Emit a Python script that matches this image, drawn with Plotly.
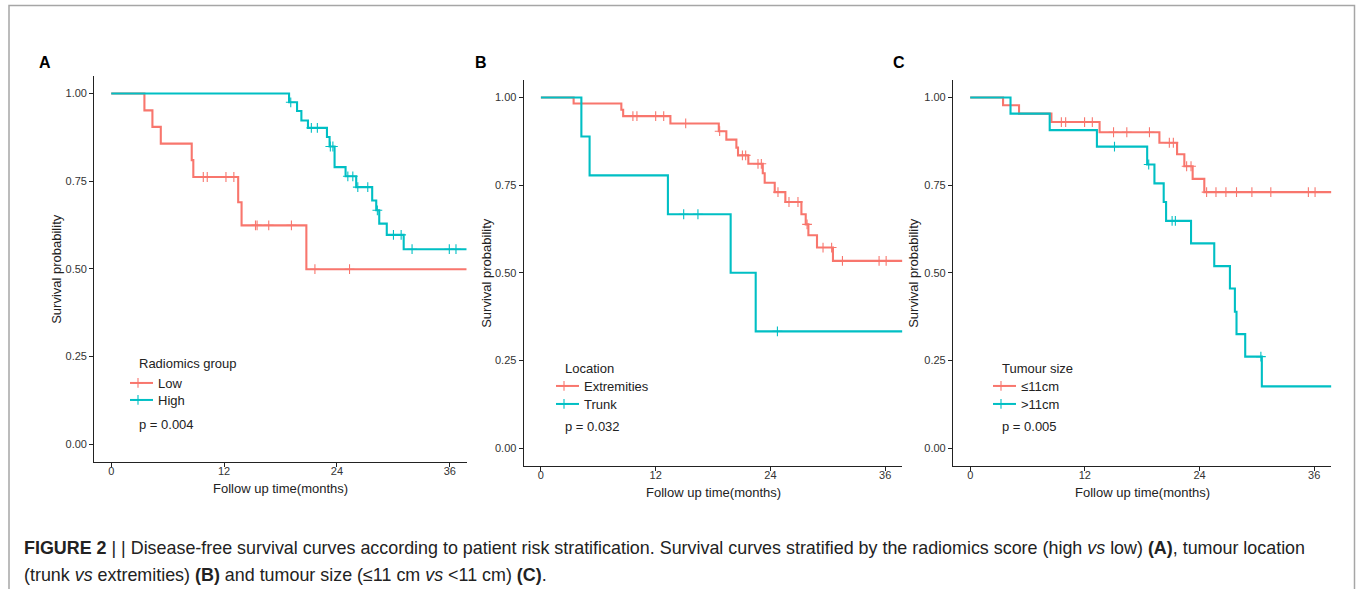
import plotly.graph_objects as go

RED = "#F8766D"
TEAL = "#00BFC4"
FONT = "Liberation Sans, Arial, sans-serif"

# ---------------- data (months, survival probability) ----------------
# Panel A: radiomics group
a_low_t = [0, 3.53, 4.38, 5.27, 8.56, 8.73, 13.50, 13.86, 20.75, 37.8]
a_low_s = [1.0, 0.952, 0.905, 0.857, 0.810, 0.762, 0.690, 0.624, 0.499, 0.499]
a_low_cens = [9.79, 10.21, 12.2, 13.04, 15.34, 15.51, 16.75, 19.16, 21.66, 25.34]

a_high_t = [0, 18.91, 19.76, 20.22, 20.92, 22.94, 23.22, 23.75, 24.92, 26.05,
            27.75, 28.18, 28.5, 29.3, 31.1, 37.8]
a_high_s = [1.0, 0.975, 0.950, 0.923, 0.902, 0.876, 0.849, 0.790, 0.764, 0.733,
            0.695, 0.667, 0.629, 0.597, 0.556, 0.556]
a_high_cens = [19.09, 21.28, 21.92, 23.3, 23.57, 25.16, 25.69, 26.22, 27.28, 28.3,
               30.01, 30.83, 31.99, 35.95, 36.66]

# Panel B: location
b_ext_t = [0, 3.42, 8.41, 8.6, 13.54, 18.6, 19.39, 20.44, 20.61, 21.69, 23.2, 23.4,
           24.45, 25.56, 27.24, 27.69, 27.97, 28.87, 30.54, 37.8]
b_ext_s = [1.0, 0.983, 0.965, 0.947, 0.926, 0.904, 0.880, 0.857, 0.835, 0.811, 0.784,
           0.757, 0.730, 0.702, 0.667, 0.638, 0.607, 0.572, 0.534, 0.534]
b_ext_cens = [9.62, 10.04, 12.0, 12.84, 15.14, 18.69, 21.07, 21.41, 22.7, 23.05, 24.79,
              25.94, 26.88, 27.83, 29.5, 30.4, 31.53, 35.36, 36.1]

b_trunk_t = [0, 4.23, 5.09, 13.28, 19.84, 22.46, 37.8]
b_trunk_s = [1.0, 0.889, 0.778, 0.667, 0.500, 0.333, 0.333]
b_trunk_cens = [14.93, 16.42, 24.73]

# Panel C: tumour size
c_small_t = [0, 3.44, 5.11, 8.50, 13.54, 19.80, 21.65, 22.41, 23.28, 24.5, 37.8]
c_small_s = [1.0, 0.978, 0.954, 0.930, 0.901, 0.871, 0.838, 0.804, 0.768, 0.730, 0.730]
c_small_cens = [9.54, 9.99, 11.97, 12.78, 15.0, 16.39, 18.76, 20.84, 21.26, 22.65, 23.11,
                24.74, 25.72, 26.76, 27.87, 29.48, 31.46, 35.39, 36.09]

c_large_t = [0, 4.22, 8.32, 13.26, 18.52, 19.28, 20.25, 20.5, 23.11, 25.54, 27.18,
             27.70, 27.87, 28.78, 30.52, 37.8]
c_large_s = [1.0, 0.954, 0.907, 0.860, 0.809, 0.755, 0.702, 0.648, 0.584, 0.519, 0.455,
             0.389, 0.325, 0.261, 0.176, 0.176]
c_large_cens = [15.1, 18.68, 21.13, 21.47, 30.42]

x_ticks = [0, 12, 24, 36]
y_ticks = [0, 0.25, 0.5, 0.75, 1.0]
y_ticktext = ["0.00", "0.25", "0.50", "0.75", "1.00"]

panels = [
    dict(letter="A", legend_title="Radiomics group", p="p = 0.004",
         series=[("Low", RED, a_low_t, a_low_s, a_low_cens),
                 ("High", TEAL, a_high_t, a_high_s, a_high_cens)]),
    dict(letter="B", legend_title="Location", p="p = 0.032",
         series=[("Extremities", RED, b_ext_t, b_ext_s, b_ext_cens),
                 ("Trunk", TEAL, b_trunk_t, b_trunk_s, b_trunk_cens)]),
    dict(letter="C", legend_title="Tumour size", p="p = 0.005",
         series=[("≤11cm", RED, c_small_t, c_small_s, c_small_cens),
                 (">11cm", TEAL, c_large_t, c_large_s, c_large_cens)]),
]

# ---------------- layout geometry (pixels) ----------------
W, H = 1357, 589
px_x = [(94.3, 466.7), (523.7, 902.4), (953.0, 1331.4)]
px_y = [(76.0, 461.7), (80.0, 465.6), (80.0, 465.6)]
legtitle_px = [(137, 364), (563, 368), (1000, 368)]
entry_x = [130, 556, 993]
entry_y = [(383, 400), (386, 404), (386, 404)]
p_px = [(137, 424), (563, 426), (1000, 426)]
letter_px = [(45, 62), (481, 62), (899, 62)]
ytitle_px = [57, 487, 914]
xtitle_py = [488, 492, 492]
ENTRY_OFFSET = 15  # legend top -> first item centre (px)


def fx(p):
    return p / W


def fy(p):
    return 1 - p / H


def step_value(ts, ss, t):
    v = ss[0]
    for ti, si in zip(ts, ss):
        if ti <= t:
            v = si
    return v


fig = go.Figure()
annotations = []
layout_extra = {}
leg_index = 0

for i, pan in enumerate(panels):
    k = "" if i == 0 else str(i + 1)
    xa, ya = "x" + k, "y" + k
    for j, (name, col, ts, ss, cens) in enumerate(pan["series"]):
        leg_index += 1
        leg = "legend" if leg_index == 1 else "legend" + str(leg_index)
        fig.add_trace(go.Scatter(
            x=ts, y=ss, mode="lines", line=dict(color=col, width=2.1, shape="hv"),
            xaxis=xa, yaxis=ya, showlegend=False, hoverinfo="skip"))
        fig.add_trace(go.Scatter(
            x=cens, y=[step_value(ts, ss, c) for c in cens], mode="markers",
            marker=dict(symbol="cross-thin", size=7, line=dict(color=col, width=1.1)),
            xaxis=xa, yaxis=ya, showlegend=False, hoverinfo="skip"))
        fig.add_trace(go.Scatter(
            x=[None], y=[None], mode="lines+markers", name=name,
            line=dict(color=col, width=2),
            marker=dict(symbol="cross-thin", size=7, line=dict(color=col, width=1.1)),
            xaxis=xa, yaxis=ya, legend=leg, showlegend=True))
        layout_extra[leg] = dict(
            x=fx(entry_x[i]), y=fy(entry_y[i][j] - ENTRY_OFFSET),
            xanchor="left", yanchor="top", bgcolor="rgba(0,0,0,0)",
            indentation=-12, font=dict(family=FONT, size=13, color="#222"))

    x0, x1 = px_x[i]
    y0, y1 = px_y[i]
    layout_extra["xaxis" + k] = dict(
        domain=[fx(x0), fx(x1)], range=[-1.8, 37.8], anchor=ya,
        tickvals=x_ticks, showline=True, linecolor="#222", linewidth=1.2,
        ticks="outside", ticklen=4, tickcolor="#222", tickwidth=1,
        ticklabelstandoff=-5,
        tickfont=dict(family=FONT, size=11, color="#333"),
        showgrid=False, zeroline=False)
    layout_extra["yaxis" + k] = dict(
        domain=[fy(y1), fy(y0)], range=[-0.05, 1.05], anchor=xa,
        tickvals=y_ticks, ticktext=y_ticktext, showline=True, linecolor="#222",
        linewidth=1.2, ticks="outside", ticklen=4, tickcolor="#222", tickwidth=1,
        tickfont=dict(family=FONT, size=11, color="#333"),
        showgrid=False, zeroline=False)

    annotations.append(dict(
        x=fx(legtitle_px[i][0]), y=fy(legtitle_px[i][1]), xref="paper", yref="paper",
        text=pan["legend_title"], showarrow=False,
        font=dict(family=FONT, size=13, color="#222"), xanchor="left", yanchor="middle"))
    annotations.append(dict(
        x=fx(letter_px[i][0]), y=fy(letter_px[i][1]), xref="paper", yref="paper",
        text="<b>" + pan["letter"] + "</b>", showarrow=False,
        font=dict(family=FONT, size=16, color="#000"), xanchor="center", yanchor="middle"))
    annotations.append(dict(
        x=fx(p_px[i][0]), y=fy(p_px[i][1]), xref="paper", yref="paper",
        text=pan["p"], showarrow=False,
        font=dict(family=FONT, size=13, color="#222"), xanchor="left", yanchor="middle"))
    annotations.append(dict(
        x=fx(ytitle_px[i]), y=fy((y0 + y1) / 2), xref="paper", yref="paper",
        text="Survival probability", textangle=-90, showarrow=False,
        font=dict(family=FONT, size=13, color="#222"), xanchor="center", yanchor="middle"))
    annotations.append(dict(
        x=fx((x0 + x1) / 2), y=fy(xtitle_py[i]), xref="paper", yref="paper",
        text="Follow up time(months)", showarrow=False,
        font=dict(family=FONT, size=13, color="#222"), xanchor="center", yanchor="middle"))

caption1 = ("<b>FIGURE 2</b> | | Disease-free survival curves according to patient risk "
            "stratification. Survival curves stratified by the radiomics score (high <i>vs</i> "
            "low) <b>(A)</b>, tumour location")
caption2 = ("(trunk <i>vs</i> extremities) <b>(B)</b> and tumour size (≤11 cm <i>vs</i> "
            "&lt;11 cm) <b>(C)</b>.")
for txt, yy in [(caption1, 548), (caption2, 575)]:
    annotations.append(dict(
        x=fx(22), y=fy(yy), xref="paper", yref="paper", text=txt, showarrow=False,
        font=dict(family=FONT, size=17.9, color="#222"), xanchor="left", yanchor="middle"))

fig.update_layout(
    width=W, height=H, autosize=False,
    margin=dict(l=0, r=0, t=0, b=0),
    paper_bgcolor="white", plot_bgcolor="white",
    font=dict(family=FONT, color="#222"),
    annotations=annotations,
    shapes=[dict(type="rect", xref="paper", yref="paper",
                 x0=fx(9), x1=fx(1354.5), y0=-0.1, y1=fy(5.5),
                 line=dict(color="#a6a6a6", width=1.5), fillcolor="rgba(0,0,0,0)")],
    **layout_extra)

fig.write_html("out.html", config={"displayModeBar": False},
               post_script="document.body.style.margin='0';")
